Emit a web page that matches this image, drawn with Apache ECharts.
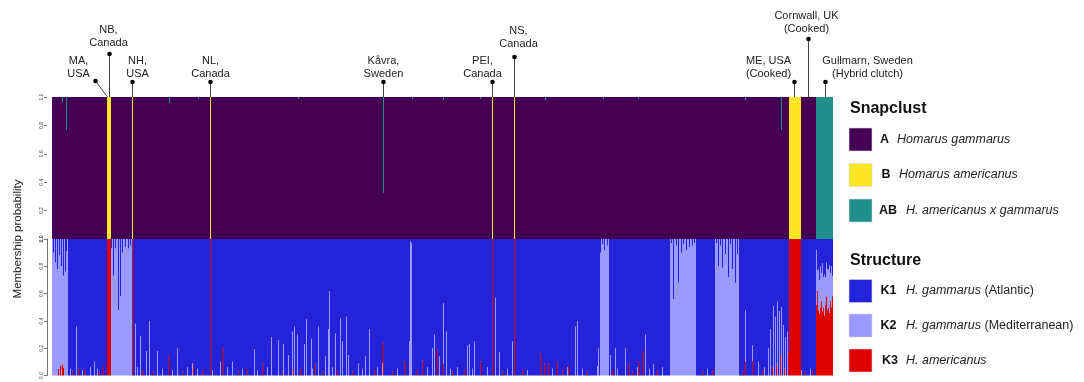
<!DOCTYPE html>
<html>
<head>
<meta charset="utf-8">
<script src="https://cdn.jsdelivr.net/npm/echarts@6/dist/echarts.min.js"></script>
<style>
  html, body { margin: 0; padding: 0; background: #fff; }
  #chart { width: 1084px; height: 382px; }
</style>
</head>
<body>
<div id="chart"></div>
<script>
// one bar per individual lobster
const N = 781;
const ticks = [0, 0.2, 0.4, 0.6, 0.8, 1.0];

// Snapclust: index ranges assigned to B (americanus) and AB (hybrid)
const snapB = [[55, 58], [80, 80], [158, 158], [440, 440], [462, 462], [737, 748]];
const snapAB = [[764, 780]];
// partial AB membership [index, AB]
const snapMix = [[10, 0.03], [14, 0.23], [117, 0.04], [146, 0.01], [246, 0.01], [331, 0.67],
  [360, 0.01], [391, 0.02], [428, 0.01], [493, 0.02], [551, 0.01], [586, 0.01], [693, 0.02], [729, 0.23]];

// Structure: index ranges fully K3 (americanus) / fully K2 (Mediterranean)
const k3Full = [[55, 58], [80, 80], [158, 158], [440, 440], [462, 462], [737, 748]];
const k2Full = [[0, 15], [59, 79], [548, 556], [618, 643], [663, 686]];
// K1 dips from the top inside the K2 blocks [index, K1]
const k1Dips = [[1, 0.1], [3, 0.17], [5, 0.22], [7, 0.12], [9, 0.2], [11, 0.27], [13, 0.24], [14, 0.09],
  [59, 0.07], [61, 0.27], [63, 0.07], [66, 0.52], [68, 0.42], [70, 0.1], [73, 0.06], [76, 0.07], [78, 0.05],
  [548, 0.1], [550, 0.04], [552, 0.08], [555, 0.05],
  [619, 0.03], [621, 0.44], [624, 0.05], [626, 0.32], [629, 0.1], [631, 0.04], [634, 0.08], [637, 0.06], [640, 0.05], [642, 0.03],
  [664, 0.03], [666, 0.2], [668, 0.05], [670, 0.21], [673, 0.11], [676, 0.28], [678, 0.04], [680, 0.22], [683, 0.32], [685, 0.11]];
// K2 spikes among K1 individuals [index, K2]
const k2Spikes = [[18, 0.05], [24, 0.36], [30, 0.04], [38, 0.06], [42, 0.1], [45, 0.05], [83, 0.38], [85, 0.06],
  [88, 0.29], [94, 0.18], [97, 0.4], [105, 0.18], [110, 0.05], [120, 0.04], [125, 0.2], [135, 0.06], [140, 0.09],
  [145, 0.05], [160, 0.04], [168, 0.1], [175, 0.06], [180, 0.1], [190, 0.05], [202, 0.19], [205, 0.04], [215, 0.06],
  [219, 0.28], [226, 0.26], [231, 0.23], [236, 0.15], [240, 0.32], [242, 0.36], [245, 0.3], [252, 0.23], [254, 0.41],
  [259, 0.27], [260, 0.05], [266, 0.36], [273, 0.14], [276, 0.34], [277, 0.62], [280, 0.06], [283, 0.31], [288, 0.42],
  [290, 0.25], [294, 0.43], [296, 0.15], [306, 0.09], [310, 0.05], [313, 0.14], [317, 0.34], [325, 0.06], [330, 0.09],
  [345, 0.05], [357, 0.25], [358, 0.98], [359, 0.97], [375, 0.06], [380, 0.2], [382, 0.3], [387, 0.14], [391, 0.44],
  [394, 0.32], [398, 0.05], [405, 0.06], [415, 0.22], [417, 0.23], [420, 0.05], [422, 0.25], [435, 0.06], [443, 0.57],
  [447, 0.17], [455, 0.05], [460, 0.25], [475, 0.04], [500, 0.05], [515, 0.06], [523, 0.36], [525, 0.4], [530, 0.05],
  [545, 0.07], [546, 0.2], [558, 0.15], [563, 0.2], [565, 0.05], [573, 0.2], [585, 0.06], [593, 0.3], [597, 0.05],
  [601, 0.08], [610, 0.06], [655, 0.05], [693, 0.38], [700, 0.11], [706, 0.1], [712, 0.06], [716, 0.2],
  [718, 0.34], [721, 0.51], [723, 0.43], [725, 0.54], [727, 0.47], [729, 0.5], [731, 0.37], [733, 0.28], [735, 0.32],
  [749, 0.04], [758, 0.05]];
// K3 spikes [index, K3]
const k3Spikes = [[6, 0.05], [8, 0.07], [10, 0.08], [11, 0.06], [20, 0.03], [26, 0.05], [33, 0.04], [47, 0.03],
  [51, 0.07], [90, 0.04], [101, 0.03], [116, 0.15], [130, 0.03], [141, 0.07], [150, 0.04], [171, 0.2], [186, 0.03],
  [195, 0.04], [210, 0.09], [230, 0.03], [241, 0.04], [248, 0.05], [263, 0.08], [270, 0.03], [285, 0.04], [300, 0.03],
  [322, 0.04], [331, 0.24], [340, 0.03], [352, 0.1], [365, 0.04], [370, 0.11], [385, 0.19], [391, 0.09], [400, 0.03],
  [412, 0.04], [428, 0.1], [450, 0.03], [470, 0.04], [488, 0.16], [492, 0.09], [496, 0.09], [505, 0.1], [510, 0.04],
  [516, 0.07], [535, 0.03], [560, 0.04], [577, 0.09], [580, 0.03], [586, 0.1], [591, 0.18], [605, 0.04], [650, 0.03],
  [660, 0.04], [690, 0.03], [693, 0.1], [700, 0.11], [710, 0.04], [720, 0.06], [724, 0.08], [728, 0.15], [732, 0.05],
  [736, 0.17], [752, 0.03], [760, 0.04]];
// Gullmarn hybrid clutch (indices 764-780)
const hybridStart = 764;
const hybridK3 = [0.52, 0.62, 0.48, 0.45, 0.5, 0.55, 0.47, 0.5, 0.44, 0.52, 0.58, 0.48, 0.5, 0.46, 0.55, 0.5, 0.58];
const hybridK2 = [0.4, 0.15, 0.3, 0.25, 0.3, 0.2, 0.35, 0.22, 0.3, 0.2, 0.25, 0.3, 0.28, 0.35, 0.2, 0.3, 0.15];

// sampling sites
const siteNames = ['MA,\nUSA', 'NB,\nCanada', 'NH,\nUSA', 'NL,\nCanada', 'Kåvra,\nSweden', 'PEI,\nCanada',
  'NS,\nCanada', 'ME, USA\n(Cooked)', 'Cornwall, UK\n(Cooked)', 'Gullmarn, Sweden\n(Hybrid clutch)'];
const siteIndex = [55, 57, 80, 158, 331, 440, 462, 742, 756, 773];

// ---- build series arrays ----
const inRange = (ranges, i) => ranges.some(([s, e]) => i >= s && i <= e);
const toMap = (arr) => new Map(arr);
const mixMap = toMap(snapMix), dipMap = toMap(k1Dips), k2Map = toMap(k2Spikes), k3Map = toMap(k3Spikes);

const cats = [], sA = [], sB = [], sAB = [], sK1 = [], sK2 = [], sK3 = [];
for (let i = 0; i < N; i++) {
  cats.push(i + 1);
  let a = 1, b = 0, ab = 0;
  if (inRange(snapB, i)) { a = 0; b = 1; }
  else if (inRange(snapAB, i)) { a = 0; ab = 1; }
  else if (mixMap.has(i)) { ab = mixMap.get(i); a = 1 - ab; }
  sA.push(a); sB.push(b); sAB.push(ab);

  let k1, k2, k3;
  if (inRange(k3Full, i)) { k1 = 0; k2 = 0; k3 = 1; }
  else if (i >= hybridStart) {
    k3 = hybridK3[i - hybridStart]; k2 = hybridK2[i - hybridStart]; k1 = 1 - k2 - k3;
  } else if (inRange(k2Full, i)) {
    k3 = k3Map.get(i) || 0; k1 = dipMap.get(i) || 0; k2 = 1 - k1 - k3;
  } else {
    k3 = k3Map.get(i) || 0; k2 = k2Map.get(i) || 0; k1 = Math.max(0, 1 - k2 - k3);
  }
  sK1.push(k1); sK2.push(k2); sK3.push(k3);
}

const FONT = 'Liberation Sans, Arial, Helvetica, sans-serif';
const C = { A: '#440154', B: '#FDE725', AB: '#21908C', K1: '#2323D9', K2: '#9B9BFF', K3: '#E00000' };

const chart = echarts.init(document.getElementById('chart'));

const bar = (name, data, color, grid) => ({
  name, type: 'bar', data, stack: 'g' + grid,
  xAxisIndex: grid, yAxisIndex: grid,
  barCategoryGap: '0%', barWidth: '100%',
  itemStyle: { color },
  emphasis: { disabled: true },
  silent: true
});

const yAx = (grid, line) => ({
  type: 'value', gridIndex: grid, min: 0, max: 1, interval: 0.2, offset: 5,
  axisLine: { show: line, lineStyle: { color: '#777', width: 1 } },
  axisTick: { show: true, length: 3, lineStyle: { color: '#777' } },
  axisLabel: { fontSize: 5, rotate: 90, margin: 3, color: '#444', fontFamily: FONT, formatter: (v) => v.toFixed(1) },
  splitLine: { show: false }
});

const xAx = (grid) => ({
  type: 'category', gridIndex: grid, data: cats, boundaryGap: true,
  axisLine: { show: false }, axisTick: { show: false }, axisLabel: { show: false }
});

const option = {
  animation: false,
  backgroundColor: '#fff',
  grid: [
    { left: 52, top: 97, width: 781, height: 142 },
    { left: 52, top: 239, width: 781, height: 142 }
  ],
  xAxis: [xAx(0), xAx(1)],
  yAxis: [yAx(0, false), yAx(1, true)],
  series: [
    bar('A', sA, C.A, 0), bar('B', sB, C.B, 0), bar('AB', sAB, C.AB, 0),
    bar('K3', sK3, C.K3, 1), bar('K2', sK2, C.K2, 1), bar('K1', sK1, C.K1, 1)
  ]
};
chart.setOption(option);

// ---- annotations & legend ----
const labelDx = [-29, -1, 5, 0, 0, -10, 4, -26, -2, 42];
const dotDx = [-12, 0, 0, 0, 0, 0, 0, 0, 0, 0];
const dotY = [81, 54, 82, 82, 82, 82, 57, 82, 39, 82];
const labelCy = [67.5, 36.5, 67.5, 67.5, 67.5, 67.5, 37.5, 67.5, 22.5, 67.5];

const g = [];
siteNames.forEach((name, k) => {
  const x = chart.convertToPixel({ xAxisIndex: 0 }, siteIndex[k]);
  const dx = x + dotDx[k];
  g.push({ type: 'line', shape: { x1: dx, y1: dotY[k], x2: x, y2: 97 }, style: { stroke: '#444', lineWidth: 1 }, z: 10 });
  g.push({ type: 'circle', shape: { cx: dx, cy: dotY[k], r: 2.3 }, style: { fill: '#000' }, z: 11 });
  g.push({ type: 'text', x: x + labelDx[k], y: labelCy[k], z: 11,
    style: { text: name, fontSize: 11, lineHeight: 13, fontFamily: FONT, fill: '#222', align: 'center', verticalAlign: 'middle' } });
});

g.push({ type: 'text', x: 18, y: 239, rotation: Math.PI / 2,
  style: { text: 'Membership probability', fontSize: 11.5, fontFamily: FONT, fill: '#222', align: 'center', verticalAlign: 'middle' } });

const snapLegend = [['A', 'Homarus gammarus', '', C.A], ['B', 'Homarus americanus', '', C.B], ['AB', 'H. americanus x gammarus', '', C.AB]];
const structLegend = [['K1', 'H. gammarus', ' (Atlantic)', C.K1], ['K2', 'H. gammarus', ' (Mediterranean)', C.K2], ['K3', 'H. americanus', '', C.K3]];
const keyX = [[880, 897], [881.5, 899], [879, 906]];
const keyX2 = [[880.5, 906], [880.5, 906], [882, 906]];

function legendBlock(title, titleY, items, rowY, xs) {
  g.push({ type: 'text', x: 850, y: titleY, style: { text: title, fontSize: 16, fontWeight: 'bold', fontFamily: FONT, fill: '#111', verticalAlign: 'middle' } });
  items.forEach(([key, ital, plain, color], r) => {
    const cy = rowY[r];
    g.push({ type: 'rect', shape: { x: 849, y: cy - 11.5, width: 23, height: 23 }, style: { fill: color, stroke: '#d8d8d8', lineWidth: 0.6 } });
    g.push({ type: 'text', x: xs[r][0], y: cy, style: { text: key, fontSize: 12.5, fontWeight: 'bold', fontFamily: FONT, fill: '#111', verticalAlign: 'middle' } });
    g.push({ type: 'text', x: xs[r][1], y: cy, style: {
      text: '{i|' + ital + '}' + (plain ? '{n|' + plain + '}' : ''), verticalAlign: 'middle',
      rich: {
        i: { fontSize: 12.5, fontStyle: 'italic', fontFamily: FONT, fill: '#222' },
        n: { fontSize: 12.5, fontFamily: FONT, fill: '#222' }
      } } });
  });
}
legendBlock('Snapclust', 109, snapLegend, [139.5, 175, 210.5], keyX);
legendBlock('Structure', 261, structLegend, [291, 325.5, 360.5], keyX2);

chart.setOption({ graphic: g });
window.addEventListener('resize', chart.resize);
</script>
</body>
</html>
